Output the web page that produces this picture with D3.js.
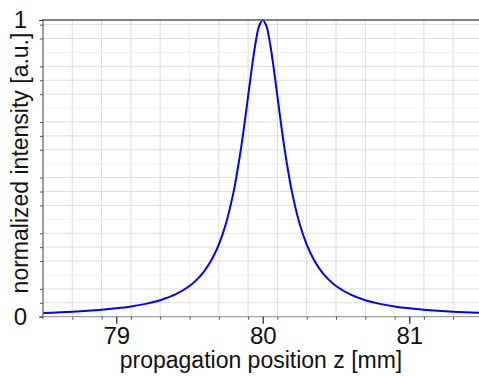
<!DOCTYPE html>
<html><head><meta charset="utf-8">
<script src="https://cdn.jsdelivr.net/npm/d3@7"></script>
<style>
html,body{margin:0;padding:0;background:#fff;}
svg{display:block;font-family:"Liberation Sans",Arial,sans-serif;}
</style></head>
<body><svg id="c" width="479" height="376"></svg>
<script>
// ---- data ----
const zPos = [78.5,78.7,78.9,79.0,79.1,79.2,79.3,79.4,79.5,79.55,79.6,79.65,79.7,79.75,79.8,79.825,79.85,79.875,79.9,79.925,79.95,79.975,80.0,
              80.025,80.05,80.075,80.1,80.125,80.15,80.175,80.2,80.25,80.3,80.35,80.4,80.45,80.5,80.6,80.7,80.8,80.9,81.0,81.1,81.3,81.5];
const intensity = [0.0127,0.0168,0.0233,0.0281,0.0344,0.0432,0.0557,0.0743,0.1036,0.125,0.153,0.191,0.243,0.316,0.419,0.486,0.562,0.649,0.743,0.837,0.920,0.979,1.0,
              0.979,0.920,0.837,0.743,0.649,0.562,0.486,0.419,0.316,0.243,0.191,0.153,0.125,0.1036,0.0743,0.0557,0.0432,0.0344,0.0281,0.0233,0.0168,0.0127];
const xTickLabels = [79, 80, 81];
const yTickLabels = [0, 1];
const xGridVals = [78.7,78.9,79.1,79.3,79.5,79.7,79.9,80.1,80.3,80.5,80.7,80.9,81.1,81.3];
const xLabel = "propagation position z [mm]";
const yLabel = "normalized intensity [a.u.]";

// ---- layout ----
const svg = d3.select("#c");
const L = 43, R = 482.5, T = 20, B = 316.7;
const x = d3.scaleLinear().domain([78.5, 81.5]).range([L, R]);
const y = d3.scaleLinear().domain([0, 1]).range([B, T]);
const yGridStep = 0.04688;
const yGridVals = d3.range(1, 22).map(k => k * yGridStep);

svg.append("clipPath").attr("id","pc").append("rect")
  .attr("x", L).attr("y", T - 2).attr("width", 479 - L).attr("height", B - T + 4);

// grid
const g = svg.append("g");
g.selectAll("line.vg").data(xGridVals).join("line")
  .attr("x1", d => x(d)).attr("x2", d => x(d)).attr("y1", T).attr("y2", B)
  .attr("stroke", (d,i) => (i % 7 === 4) ? "#f0f0f0" : "#dcdcdc").attr("stroke-width", 1);
g.selectAll("line.hg").data(yGridVals).join("line")
  .attr("x1", L).attr("x2", 479).attr("y1", d => y(d)).attr("y2", d => y(d))
  .attr("stroke", (d,i) => (i % 4 === 2) ? "#f0f0f0" : "#dedede").attr("stroke-width", 1);

// curve
const line = d3.line().x((d,i) => x(zPos[i])).y(d => y(d)).curve(d3.curveCatmullRom.alpha(0.5));
svg.append("path").datum(intensity).attr("d", line)
  .attr("fill", "none").attr("stroke", "#0000ff").attr("stroke-width", 2)
  .attr("clip-path", "url(#pc)");

// frame
svg.append("line").attr("x1", L).attr("x2", 479).attr("y1", T).attr("y2", T)
  .attr("stroke", "#5a5a5a").attr("stroke-width", 1.6);
svg.append("line").attr("x1", L).attr("x2", L).attr("y1", T - 1).attr("y2", B + 2)
  .attr("stroke", "#6a6a6a").attr("stroke-width", 1.3);
svg.append("line").attr("x1", L - 3).attr("x2", 479).attr("y1", B).attr("y2", B)
  .attr("stroke", "#8a8a8a").attr("stroke-width", 1);

const fontFam = "Liberation Sans, Arial, sans-serif";

// x axis ticks
const xAxisMinor = d3.axisBottom(x).tickValues(xGridVals).tickSize(3).tickFormat("");
const xa1 = svg.append("g").attr("transform", `translate(0,${B})`).call(xAxisMinor);
xa1.select(".domain").remove();
xa1.selectAll("line").attr("stroke", "#555");
const xAxisMajor = d3.axisBottom(x).tickValues(xTickLabels).tickSize(7).tickPadding(3).tickFormat(d3.format("d"));
const xa2 = svg.append("g").attr("transform", `translate(0,${B})`).call(xAxisMajor);
xa2.select(".domain").remove();
xa2.selectAll("line").attr("stroke", "#333").attr("stroke-width", 1.3);
xa2.selectAll("text").attr("font-size", 24).attr("fill", "#111").attr("font-family", fontFam);

// y axis ticks
const yAxisMinor = d3.axisLeft(y).tickValues(yGridVals.filter((d,i) => i % 4 !== 2)).tickSize(3).tickFormat("");
const ya1 = svg.append("g").attr("transform", `translate(${L},0)`).call(yAxisMinor);
ya1.select(".domain").remove();
ya1.selectAll("line").attr("stroke", "#555");
const yAxisMajor = d3.axisLeft(y).tickValues(yTickLabels).tickSize(4).tickPadding(12).tickFormat(d3.format("d"));
const ya2 = svg.append("g").attr("transform", `translate(${L},0)`).call(yAxisMajor);
ya2.select(".domain").remove();
ya2.selectAll("line").attr("stroke", "#333");
ya2.selectAll("text").attr("font-size", 24).attr("fill", "#111").attr("font-family", fontFam);

// axis titles
svg.append("text").attr("x", 261).attr("y", 368).attr("text-anchor", "middle")
  .attr("font-size", 23).attr("fill", "#111").text(xLabel);
svg.append("text").attr("transform", `translate(28,163) rotate(-90)`)
  .attr("text-anchor", "middle").attr("font-size", 23).attr("fill", "#111").text(yLabel);
</script></body></html>
